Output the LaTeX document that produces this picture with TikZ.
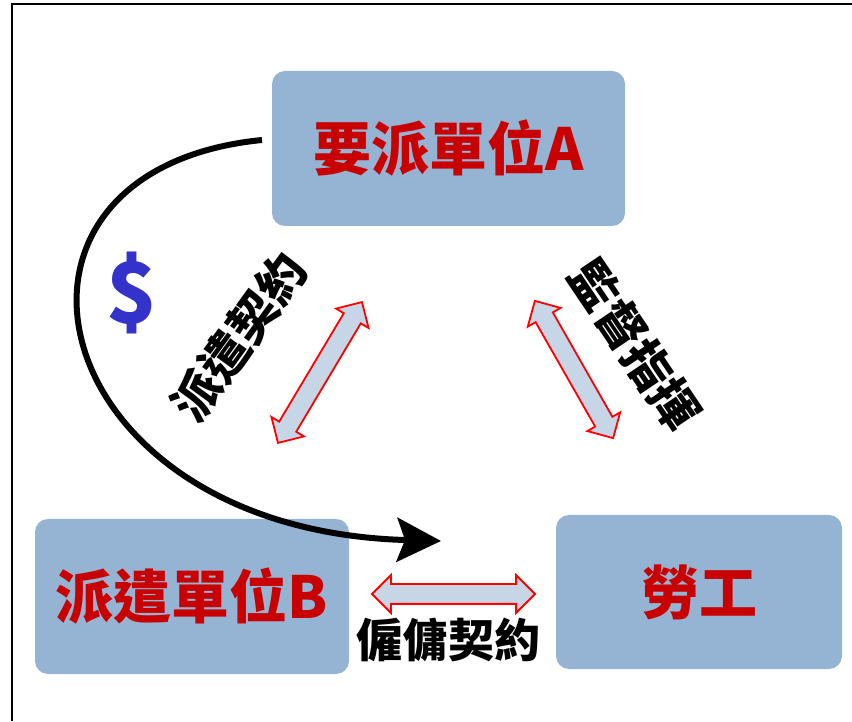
\documentclass[tikz,border=0pt]{standalone}
\usepackage{fontspec}
\newfontfamily\cjk{Noto Sans CJK TC}
\usetikzlibrary{shapes.arrows,arrows.meta,calc}
\definecolor{boxblue}{RGB}{149,179,210}
\definecolor{arrfill}{RGB}{199,214,231}
\definecolor{darkred}{RGB}{200,0,0}
\definecolor{dollarblue}{RGB}{51,51,204}
\begin{document}
\begin{tikzpicture}[x=1pt,y=1pt,
  box/.style={fill=boxblue,rounded corners=13pt,inner sep=0pt,text=darkred,
    font=\cjk\bfseries\fontsize{58}{60}\selectfont},
  dblarr/.style={shape=double arrow,draw=red,line width=1.8pt,fill=arrfill,
    double arrow head extend=9pt,double arrow tip angle=90,
    inner xsep=0pt,inner ysep=9pt,minimum height=#1},
  lbl/.style={font=\cjk\bfseries\fontsize{48}{50}\selectfont,inner sep=0pt}]
\useasboundingbox (0,0) rectangle (852,721);
\draw[line width=2.5pt] (12,0) -- (12,717) -- (852,717);
% boxes
\node[box,minimum width=353pt,minimum height=155pt] (A) at (448.5,572.5) {要派單位A};
\node[box,minimum width=314pt,minimum height=155pt] (B) at (192,124.5) {派遣單位B};
\node[box,minimum width=286pt,minimum height=154pt] (W) at (699,129) {勞工};
% double arrows
\node[dblarr=164pt,rotate=59.2] (arrL) at (320,348.5) {};
\node[dblarr=158pt,rotate=-60.3] (arrR) at (574,351.5) {};
\node[dblarr=163pt] (arrH) at (453.5,127) {};
% labels
\node[lbl,rotate=54] (t1) at (239,384) {派遣契約};
\node[lbl,rotate=-56] (t2) at (635,376) {監督指揮};
\node[lbl,font=\cjk\bfseries\fontsize{46}{48}\selectfont] (t3) at (448,81) {僱傭契約};
\node[font=\cjk\bfseries\fontsize{84}{86}\selectfont,text=dollarblue,inner sep=0pt] (d) at (132,428) {\$};
% curved money arrow
\coordinate (cs) at (262,581);
\coordinate (ce) at (441,180);
\draw[line width=6pt,-{Stealth[length=44pt,width=44pt,inset=8pt]}]
  (cs) .. controls (-40,551) and (40,191) .. (ce);
\end{tikzpicture}
\end{document}
